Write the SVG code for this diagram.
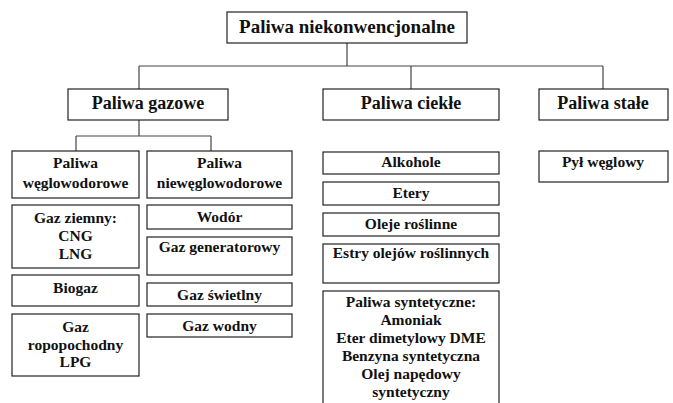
<svg xmlns="http://www.w3.org/2000/svg" width="673" height="403" viewBox="0 0 673 403">
<style>
rect{fill:#fff;stroke:#222;stroke-width:1.2}
text{font-family:"Liberation Serif","Times New Roman",serif;font-weight:bold;fill:#111;text-anchor:middle}
.t1{font-size:19px}
.t2{font-size:18px}
.t3{font-size:15.5px}
#connectors path{fill:none;stroke:#444;stroke-width:1.2}
</style>
<rect x="0" y="0" width="673" height="403" style="fill:#fff;stroke:none"/>
<g id="connectors">
<path d="M347 43V66M139 66H603M139 66V89M411 66V89M603 66V89"/>
<path d="M139 120V136M76 136H211M76 136V151M211 136V151"/>
</g>
<g id="root"><rect x="227" y="12" width="240" height="31"/><text class="t1" x="347" y="33">Paliwa niekonwencjonalne</text></g>
<g id="gazowe"><rect x="68" y="89" width="160" height="31"/><text class="t2" x="148" y="109">Paliwa gazowe</text></g>
<g id="ciekle"><rect x="323" y="89" width="176" height="31"/><text class="t2" x="411" y="109">Paliwa ciekłe</text></g>
<g id="stale"><rect x="539" y="89" width="129" height="31"/><text class="t2" x="603" y="109">Paliwa stałe</text></g>
<g id="weglowodorowe"><rect x="12" y="151" width="127" height="47"/><text class="t3" x="75.5" y="168">Paliwa</text><text class="t3" x="75.5" y="188">węglowodorowe</text></g>
<g id="nieweglowodorowe"><rect x="147" y="151" width="145" height="47"/><text class="t3" x="219.5" y="168">Paliwa</text><text class="t3" x="219.5" y="188">niewęglowodorowe</text></g>
<g id="gazziemny"><rect x="12" y="205" width="127" height="63"/><text class="t3" x="75.5" y="223">Gaz ziemny:</text><text class="t3" x="75.5" y="241">CNG</text><text class="t3" x="75.5" y="259">LNG</text></g>
<g id="biogaz"><rect x="12" y="275" width="127" height="31"/><text class="t3" x="75.5" y="293">Biogaz</text></g>
<g id="lpg"><rect x="12" y="314" width="127" height="62"/><text class="t3" x="75.5" y="332">Gaz</text><text class="t3" x="75.5" y="350">ropopochodny</text><text class="t3" x="75.5" y="367">LPG</text></g>
<g id="wodor"><rect x="147" y="205" width="145" height="24"/><text class="t3" x="219.5" y="222">Wodór</text></g>
<g id="generatorowy"><rect x="147" y="237" width="145" height="38"/><text class="t3" x="219.5" y="252">Gaz generatorowy</text></g>
<g id="swietlny"><rect x="147" y="283" width="145" height="23"/><text class="t3" x="219.5" y="300">Gaz świetlny</text></g>
<g id="wodny"><rect x="147" y="314" width="145" height="23"/><text class="t3" x="219.5" y="331">Gaz wodny</text></g>
<g id="alkohole"><rect x="323" y="152" width="176" height="22"/><text class="t3" x="411" y="167">Alkohole</text></g>
<g id="etery"><rect x="323" y="182" width="176" height="23"/><text class="t3" x="411" y="198">Etery</text></g>
<g id="oleje"><rect x="323" y="213" width="176" height="23"/><text class="t3" x="411" y="229">Oleje roślinne</text></g>
<g id="estry"><rect x="323" y="244" width="176" height="39"/><text class="t3" x="411" y="258">Estry olejów roślinnych</text></g>
<g id="syntetyczne"><rect x="323" y="291" width="176" height="125"/><text class="t3" x="411" y="307">Paliwa syntetyczne:</text><text class="t3" x="411" y="325">Amoniak</text><text class="t3" x="411" y="343">Eter dimetylowy DME</text><text class="t3" x="411" y="361">Benzyna syntetyczna</text><text class="t3" x="411" y="379">Olej napędowy</text><text class="t3" x="411" y="397">syntetyczny</text></g>
<g id="pyl"><rect x="539" y="151" width="129" height="31"/><text class="t3" x="603" y="167">Pył węglowy</text></g>
</svg>
